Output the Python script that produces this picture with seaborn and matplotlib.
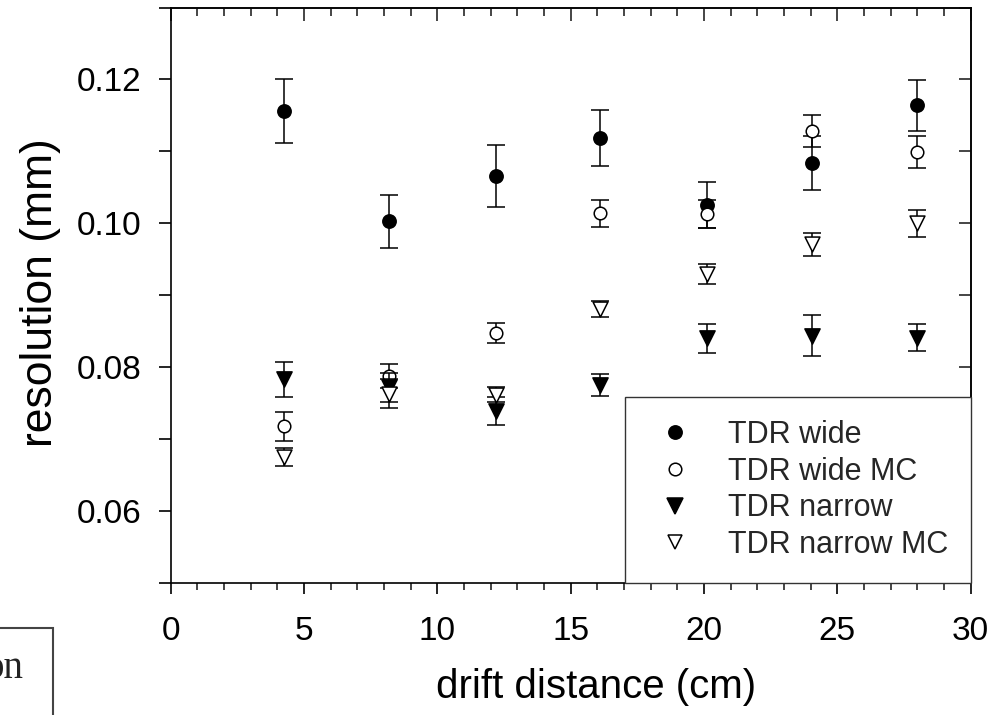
import matplotlib
matplotlib.use("Agg")
import matplotlib.pyplot as plt
import seaborn as sns
import pandas as pd
from matplotlib.ticker import MultipleLocator, FormatStrFormatter
from matplotlib.lines import Line2D
from matplotlib.patches import Rectangle

# ---- data ----
distance = [4.25, 8.2, 12.2, 16.1, 20.1, 24.05, 28.0]
wide = [0.1156, 0.1003, 0.1066, 0.1118, 0.1026, 0.1084, 0.1164]
wide_err = [0.0044, 0.0037, 0.0043, 0.0039, 0.0032, 0.0037, 0.0035]
wide_mc = [0.0718, 0.0788, 0.0847, 0.1014, 0.1013, 0.1128, 0.1099]
wide_mc_err = [0.0020, 0.0017, 0.0014, 0.0019, 0.0020, 0.0022, 0.0022]
narrow = [0.0783, 0.0772, 0.0739, 0.0775, 0.0840, 0.0844, 0.0841]
narrow_err = [0.0024, 0.0020, 0.0019, 0.0015, 0.0020, 0.0029, 0.0019]
narrow_mc = [0.0675, 0.0763, 0.0762, 0.0881, 0.0929, 0.0971, 0.1000]
narrow_mc_err = [0.0013, 0.0020, 0.0010, 0.0011, 0.0014, 0.0016, 0.0019]

labels = ["TDR wide", "TDR wide MC", "TDR narrow", "TDR narrow MC"]
x_ticks = [0, 5, 10, 15, 20, 25, 30]
y_ticks = [0.06, 0.08, 0.10, 0.12]

sns.set_theme(style="ticks")
plt.rcParams["font.family"] = ["Liberation Sans", "DejaVu Sans"]

fig = plt.figure(figsize=(10.02, 7.15), dpi=100)
ax = fig.add_axes([0.1704, 0.1846, 0.7984, 0.8049])

series = [
    (wide, wide_err, "o", "black", 92),
    (wide_mc, wide_mc_err, "o", "white", 82),
    (narrow, narrow_err, "v", "black", 120),
    (narrow_mc, narrow_mc_err, "v", "white", 115),
]

for i, (vals, errs, mk, fc, s) in enumerate(series):
    ax.errorbar(distance, vals, yerr=errs, fmt="none", ecolor="black",
                elinewidth=1.1, capsize=6.5, capthick=1.1, zorder=2 + 2 * i)
    sns.scatterplot(x=distance, y=vals, marker=mk, s=s, color=fc,
                    edgecolor="black", linewidth=1.1, ax=ax,
                    zorder=3 + 2 * i, legend=False)

ax.set_xlim(0, 30)
ax.set_ylim(0.05, 0.13)
ax.xaxis.set_major_locator(MultipleLocator(5))
ax.xaxis.set_minor_locator(MultipleLocator(1))
ax.set_xticks(x_ticks)
ax.yaxis.set_major_locator(MultipleLocator(0.02))
ax.yaxis.set_minor_locator(MultipleLocator(0.01))
ax.set_yticks(y_ticks)
ax.yaxis.set_major_formatter(FormatStrFormatter("%.2f"))

for sp in ax.spines.values():
    sp.set_visible(True)
    sp.set_linewidth(1.2)
    sp.set_color("black")

ax.tick_params(axis="x", which="major", direction="out", length=8, width=1.2,
               labelsize=24, pad=16, colors="black")
ax.tick_params(axis="x", which="minor", direction="out", length=5, width=1.2)
ax.tick_params(axis="y", which="both", direction="out", length=9, width=1.2,
               labelsize=24, pad=12, colors="black")
ax.tick_params(top=False, right=False, which="both")

# inward ticks on top and right
top = ax.secondary_xaxis("top")
top.xaxis.set_major_locator(MultipleLocator(5))
top.xaxis.set_minor_locator(MultipleLocator(1))
top.tick_params(which="major", direction="in", length=9, width=1.2, labeltop=False)
top.tick_params(which="minor", direction="in", length=6, width=1.2)
right = ax.secondary_yaxis("right")
right.yaxis.set_major_locator(MultipleLocator(0.01))
right.tick_params(which="both", direction="in", length=9, width=1.2, labelright=False)
for sa in (top, right):
    for sp in sa.spines.values():
        sp.set_linewidth(1.2)

ax.set_xlabel("drift distance (cm)", fontsize=29, color="black")
ax.xaxis.set_label_coords(0.532, -0.148)
ax.set_ylabel("resolution (mm)", fontsize=32, color="black")
ax.yaxis.set_label_coords(-0.137, 0.505)

handles = []
for (vals, errs, mk, fc, s), lab in zip(series, labels):
    handles.append(Line2D([], [], linestyle="none", marker=mk,
                          markersize=s ** 0.5, markerfacecolor=fc,
                          markeredgecolor="black", markeredgewidth=1.1, label=lab))
leg = ax.legend(handles=handles, loc="lower right", bbox_to_anchor=(1.0, 0.0),
                borderaxespad=0, fontsize=22, frameon=True, fancybox=False,
                handlelength=1.76, handletextpad=0.85, labelspacing=0.22,
                borderpad=0.75, edgecolor="#333333", framealpha=1)
leg.get_frame().set_linewidth(1.0)
leg.set_zorder(20)

# clipped fragment of a neighbouring figure at the bottom-left corner
fig.patches.append(Rectangle((-0.05, -0.1), 0.103, 0.1 + 1 - 628 / 715,
                             transform=fig.transFigure, fill=False,
                             edgecolor="#444444", linewidth=1.5))
fig.text(23 / 1002, 1 - 678 / 715, "on", family=["Liberation Serif", "DejaVu Serif"],
         fontsize=28, ha="right", va="baseline", color="#222222")

fig.savefig("out.png", dpi=100)
